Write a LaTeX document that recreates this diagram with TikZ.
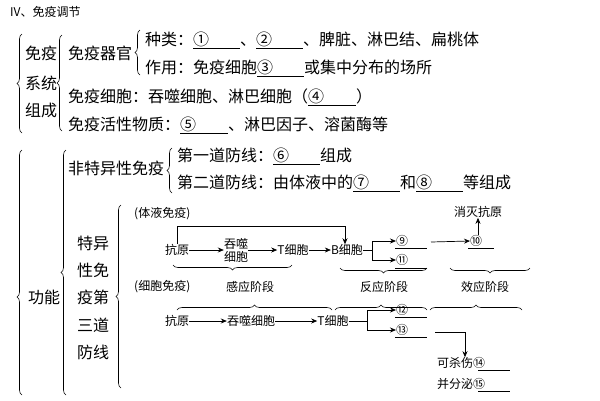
\documentclass[tikz,border=0pt]{standalone}
\usepackage{fontspec}
\setmainfont{Noto Sans CJK SC}
\usetikzlibrary{decorations.pathreplacing,arrows.meta}
\newcommand{\blank}[2]{\underline{#1\hspace{#2}}}
\begin{document}
\begin{tikzpicture}[x=1pt,y=-1pt,
  big/.style={font=\fontsize{16}{19}\selectfont,anchor=west,inner sep=0pt},
  sm/.style={font=\fontsize{12}{13}\selectfont,inner sep=0pt},
  br/.style={decorate,decoration={brace,amplitude=#1},line width=0.6pt},
  br/.default=5pt,
  arr/.style={-{Stealth[length=6pt,width=5pt]},line width=0.7pt},
  ln/.style={line width=0.7pt}]
\useasboundingbox (0,0) rectangle (600,400);
\node[font=\fontsize{12}{14}\selectfont,anchor=west,inner sep=0pt] (title) at (10,12) {IV、免疫调节};
% braces left
\draw[br=5pt] (22,133) -- (22,34);
\draw[br=5pt,decoration={aspect=0.4}] (22,395) -- (22,150);
\node[big] (sys1) at (25,53) {免疫};
\node[big] (sys2) at (25,83) {系统};
\node[big] (sys3) at (25,110) {组成};
\node[big] (gn) at (28,297) {功能};
\draw[br=5pt] (62,131) -- (62,35);
\draw[br=5pt] (66,395) -- (66,150);
\node[big] (qg) at (68,53) {免疫器官};
\draw[br=5pt] (140,75) -- (140,30);
\node[big] (zl) at (145,40) {种类：\blank{①}{31pt}、\blank{②}{31pt}、脾脏、淋巴结、扁桃体};
\node[big] (zy) at (145,68) {作用：免疫细胞\blank{③}{31pt}或集中分布的场所};
\node[big] (xb) at (68,97) {免疫细胞：吞噬细胞、淋巴细胞（\blank{④}{32pt}）};
\node[big] (hx) at (68,125) {免疫活性物质：\blank{⑤}{32pt}、淋巴因子、溶菌酶等};
\node[big] (fts) at (68,168) {非特异性免疫};
\draw[br=5pt] (172,193) -- (172,148);
\node[big] (d1) at (177,156) {第一道防线：\blank{⑥}{31pt}组成};
\node[big] (d2) at (177,183) {第二道防线：由体液中的\blank{⑦}{31pt}和\blank{⑧}{31pt}等组成};
\foreach \t/\yy [count=\i] in {特异/243,性免/270,疫第/297,三道/325,防线/352}
  \node[big] (ty\i) at (77,\yy) {\t};
\draw[br=5pt] (121,388) -- (121,205);
% humoral
\node[sm,anchor=west] (ty) at (134,214) {(体液免疫)};
\node[sm] (ky1) at (177,250) {抗原};
\node[sm,align=center] (ts1) at (236,250) {吞噬\\细胞};
\node[sm] (t1) at (293,250) {T细胞};
\node[sm] (b1) at (347,250) {B细胞};
\draw[arr] (ky1) -- (ts1);
\draw[arr] (ts1) -- (t1);
\draw[arr] (t1) -- (b1);
\draw[arr] (ky1.north) -- ++(0,-18) -| ([xshift=-2pt]b1.north);
\node[sm,anchor=west] (n9) at (396,241) {⑨};
\node[sm,anchor=west] (n11) at (396,260) {⑪};
\draw[ln] (395,248) -- (427,248) (395,268) -- (427,268);
\coordinate (bs) at (372,250);
\draw[ln] (b1.east) -- (bs);
\draw[arr] (bs) |- (n9.west);
\draw[arr] (bs) |- (n11.west);
\node[sm,anchor=west] (n10) at (470,241) {⑩};
\draw[ln] (468,248) -- (494,248);
\draw[arr] (431,242) -- (n10.west);
\node[sm] (xm) at (478,212) {消灭抗原};
\draw[arr] (n10.north -| xm.south) -- (xm.south);
\draw[br=5pt] (292,265) -- (173,265);
\draw[br=5pt] (427,268) -- (340,268);
\draw[br=5pt] (530,268) -- (450,268);
\node[sm,anchor=west] (xbm) at (134,287) {(细胞免疫)};
\node[sm] (gy) at (250,287) {感应阶段};
\node[sm] (fy) at (384,287) {反应阶段};
\node[sm] (xy) at (485,287) {效应阶段};
\draw[br=5pt] (177,310) -- (332,310);
\draw[br=5pt] (335,310) -- (427,310);
\draw[br=5pt] (430,310) -- (522,310);
% cellular
\node[sm] (ky2) at (177,321) {抗原};
\node[sm] (ts2) at (251,321) {吞噬细胞};
\node[sm] (t2) at (333,321) {T细胞};
\draw[arr] (ky2) -- (ts2);
\draw[arr] (ts2) -- (t2);
\node[sm,anchor=west] (n12) at (396,310) {⑫};
\node[sm,anchor=west] (n13) at (396,330) {⑬};
\draw[ln] (395,317) -- (427,317) (395,337) -- (427,337);
\coordinate (ts) at (367,321);
\draw[ln] (t2.east) -- (ts);
\draw[arr] (ts) |- (n12.west);
\draw[arr] (ts) |- (n13.west);
\node[sm,anchor=west] (k14) at (437,363) {可杀伤⑭};
\node[sm,anchor=west] (k15) at (437,384) {并分泌⑮};
\draw[ln] (478,370) -- (510,370) (478,391) -- (510,391);
\coordinate (dn) at (465,332);
\draw[ln] (435,332) -- (dn);
\draw[arr] (dn) -- (dn |- k14.north);
\end{tikzpicture}
\end{document}
